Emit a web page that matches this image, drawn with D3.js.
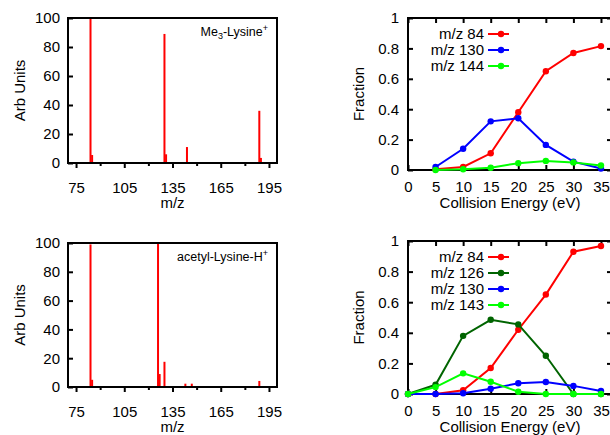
<!DOCTYPE html>
<html>
<head>
<meta charset="utf-8">
<script src="https://cdn.jsdelivr.net/npm/d3@7"></script>
<style>
  body { margin: 0; background: #fff; }
  text { font-family: "Liberation Sans", Arial, sans-serif; fill: #000; }
</style>
</head>
<body>
<div id="viz"></div>
<script>
// mass spectra (left panels)
var mzTop = [84, 85, 130, 131, 144, 189, 190];
var intTop = [100, 5.5, 89, 6, 11, 36, 3.5];
var mzBottom = [84, 85, 126, 127, 130, 143, 147, 189];
var intBottom = [99, 5, 100, 9, 17.5, 2.3, 2.3, 4.2];

// fraction vs collision energy (right panels)
var energyTop = [5, 10, 15, 20, 25, 30, 35];
var mz84Top = [0.005, 0.02, 0.11, 0.38, 0.65, 0.77, 0.815];
var mz130Top = [0.02, 0.14, 0.32, 0.34, 0.165, 0.055, 0.01];
var mz144Top = [0, 0.005, 0.015, 0.045, 0.06, 0.05, 0.03];

var energyBottom = [0, 5, 10, 15, 20, 25, 30, 35];
var mz84Bottom = [0, 0, 0.025, 0.17, 0.42, 0.65, 0.93, 0.967];
var mz126Bottom = [0, 0.06, 0.38, 0.485, 0.455, 0.25, 0, 0];
var mz130Bottom = [0, 0, 0.005, 0.035, 0.07, 0.078, 0.053, 0.02];
var mz143Bottom = [0, 0.045, 0.135, 0.08, 0.015, 0, 0, 0];

// tick labels
var mzTicks = [75, 105, 135, 165, 195];
var mzMinor = [90, 120, 150, 180];
var arbTicks = [0, 20, 40, 60, 80, 100];
var energyTicks = [0, 5, 10, 15, 20, 25, 30, 35];
var fracTicks = [0, 0.2, 0.4, 0.6, 0.8, 1];

var svg = d3.select("#viz")
  .append("svg")
    .attr("width", 610)
    .attr("height", 435);

// left panel: stick spectrum
function drawSpectrum(box, mz, inten, label) {
  var x = d3.scaleLinear().domain([70, 200]).range([box.left, box.right]);
  var y = d3.scaleLinear().domain([0, 100]).range([box.bottom, box.top]);

  // bars
  svg.append("g")
    .selectAll("rect")
    .data(mz.map(function(m, i) { return {mz: m, v: inten[i]}; }))
    .enter().append("rect")
      .attr("x", function(d) { return x(d.mz) - 1; })
      .attr("y", function(d) { return y(d.v); })
      .attr("width", 2)
      .attr("height", function(d) { return y(0) - y(d.v); })
      .attr("fill", "#ff0000");

  // x axis, ticks outward
  svg.append("g")
    .attr("transform", "translate(0," + box.bottom + ")")
    .call(d3.axisBottom(x).tickValues(mzTicks).tickSize(5).tickPadding(14).tickFormat(d3.format("d")));
  svg.append("g")
    .attr("transform", "translate(0," + box.bottom + ")")
    .call(d3.axisBottom(x).tickValues(mzMinor).tickSize(3).tickFormat(""));

  // y axis, ticks inward
  svg.append("g")
    .attr("transform", "translate(" + box.left + ",0)")
    .call(d3.axisLeft(y).tickValues(arbTicks).tickSize(-5).tickPadding(8));

  svg.selectAll(".domain").remove();
  svg.selectAll(".tick line").attr("stroke", "#000").attr("stroke-width", 2);
  svg.selectAll(".tick text").attr("font-size", 15).attr("font-family", null);

  // frame
  svg.append("rect")
    .attr("x", box.left).attr("y", box.top)
    .attr("width", box.right - box.left).attr("height", box.bottom - box.top)
    .attr("fill", "none").attr("stroke", "#000").attr("stroke-width", 2);

  svg.append("text")
    .attr("text-anchor", "middle")
    .attr("font-size", 15)
    .attr("x", (box.left + box.right) / 2)
    .attr("y", box.bottom + 45)
    .text("m/z");

  svg.append("text")
    .attr("text-anchor", "middle")
    .attr("font-size", 15)
    .attr("transform", "translate(25," + ((box.top + box.bottom) / 2) + ") rotate(-90)")
    .text("Arb Units");

  // compound label
  var t = svg.append("text")
    .attr("text-anchor", "end")
    .attr("font-size", 12.5)
    .attr("x", box.right - 9)
    .attr("y", box.top + 18);
  label.forEach(function(p) {
    var s = t.append("tspan").text(p.t);
    if (p.sub) s.attr("font-size", 9).attr("dy", 3);
    if (p.sup) s.attr("font-size", 9).attr("dy", -5);
    if (p.back) s.attr("dy", p.back);
  });
}

// right panel: fraction vs energy
function drawFraction(box, energy, series) {
  var x = d3.scaleLinear().domain([0, 37]).range([box.left, box.right]);
  var y = d3.scaleLinear().domain([0, 1]).range([box.bottom, box.top]);

  var fmt = function(d) { return d === 0 || d === 1 ? d3.format("d")(d) : d3.format(".1f")(d); };

  svg.append("g")
    .attr("transform", "translate(0," + box.bottom + ")")
    .call(d3.axisBottom(x).tickValues(energyTicks).tickSize(-5).tickPadding(11.5));
  svg.append("g")
    .attr("transform", "translate(0," + box.top + ")")
    .call(d3.axisTop(x).tickValues(energyTicks).tickSize(-5).tickFormat(""));
  svg.append("g")
    .attr("transform", "translate(" + box.left + ",0)")
    .call(d3.axisLeft(y).tickValues(fracTicks).tickSize(-5).tickPadding(9).tickFormat(fmt));
  svg.append("g")
    .attr("transform", "translate(" + box.right + ",0)")
    .call(d3.axisRight(y).tickValues(fracTicks).tickSize(-5).tickFormat(""));

  svg.selectAll(".domain").remove();
  svg.selectAll(".tick line").attr("stroke", "#000").attr("stroke-width", 2);
  svg.selectAll(".tick text").attr("font-size", 15).attr("font-family", null);

  svg.append("rect")
    .attr("x", box.left).attr("y", box.top)
    .attr("width", box.right - box.left).attr("height", box.bottom - box.top)
    .attr("fill", "none").attr("stroke", "#000").attr("stroke-width", 2);

  var line = d3.line()
    .x(function(d) { return x(d[0]); })
    .y(function(d) { return y(d[1]); });

  series.forEach(function(s, k) {
    var pts = energy.map(function(e, i) { return [e, s.values[i]]; });
    svg.append("path")
      .datum(pts)
      .attr("d", line)
      .attr("fill", "none")
      .attr("stroke", s.color)
      .attr("stroke-width", 2);
    svg.append("g")
      .selectAll("circle")
      .data(pts)
      .enter().append("circle")
        .attr("cx", function(d) { return x(d[0]); })
        .attr("cy", function(d) { return y(d[1]); })
        .attr("r", 3.2)
        .attr("fill", s.color);

    // legend row
    var ly = box.top + 16 + k * 16;
    svg.append("text")
      .attr("text-anchor", "end")
      .attr("font-size", 15)
      .attr("x", 484)
      .attr("y", ly + 5)
      .text(s.name);
    svg.append("line")
      .attr("x1", 488).attr("x2", 509)
      .attr("y1", ly).attr("y2", ly)
      .attr("stroke", s.color).attr("stroke-width", 2);
    svg.append("circle")
      .attr("cx", 501).attr("cy", ly).attr("r", 3.2)
      .attr("fill", s.color);
  });

  svg.append("text")
    .attr("text-anchor", "middle")
    .attr("font-size", 15)
    .attr("x", (box.left + box.right) / 2)
    .attr("y", box.bottom + 38)
    .text("Collision Energy (eV)");

  svg.append("text")
    .attr("text-anchor", "middle")
    .attr("font-size", 15)
    .attr("transform", "translate(364," + ((box.top + box.bottom) / 2) + ") rotate(-90)")
    .text("Fraction");
}

drawSpectrum({left: 68, right: 277, top: 18, bottom: 163}, mzTop, intTop,
  [{t: "Me"}, {t: "3", sub: true}, {t: "-Lysine", back: -3}, {t: "+", sup: true}]);
drawSpectrum({left: 68, right: 277, top: 243, bottom: 387}, mzBottom, intBottom,
  [{t: "acetyl-Lysine-H"}, {t: "+", sup: true}]);

drawFraction({left: 408, right: 612, top: 18, bottom: 170}, energyTop, [
  {name: "m/z 84", values: mz84Top, color: "#ff0000"},
  {name: "m/z 130", values: mz130Top, color: "#0000ff"},
  {name: "m/z 144", values: mz144Top, color: "#00ff00"}
]);
drawFraction({left: 408, right: 612, top: 241, bottom: 394}, energyBottom, [
  {name: "m/z 84", values: mz84Bottom, color: "#ff0000"},
  {name: "m/z 126", values: mz126Bottom, color: "#006400"},
  {name: "m/z 130", values: mz130Bottom, color: "#0000ff"},
  {name: "m/z 143", values: mz143Bottom, color: "#00ff00"}
]);
</script>
</body>
</html>
